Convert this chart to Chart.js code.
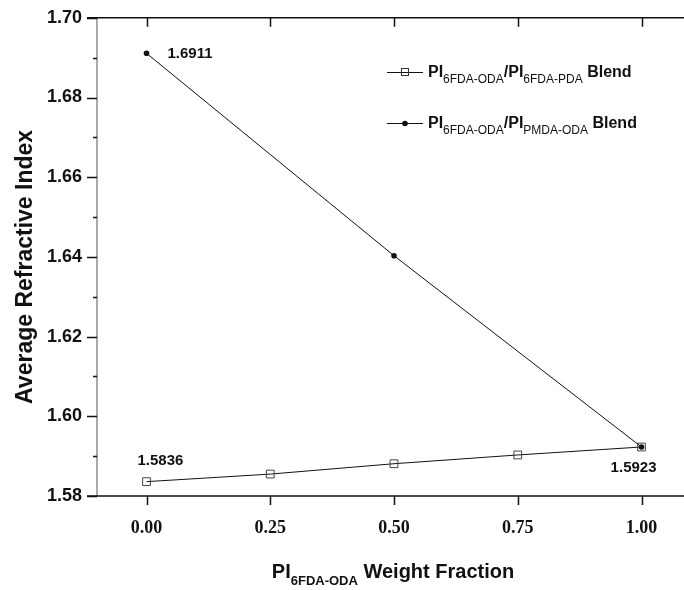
<!DOCTYPE html>
<html>
<head>
<meta charset="utf-8">
<script src="https://cdn.jsdelivr.net/npm/chart.js@4"></script>
<style>
  html, body { margin: 0; padding: 0; background: #fff; overflow: hidden; }
  #wrap { width: 684px; height: 590px; overflow: hidden; position: relative; }
  canvas { display: block; }
</style>
</head>
<body>
<div id="wrap"><canvas id="chart" width="700" height="590"></canvas></div>
<script>
// -------------------------------
// Data
// -------------------------------
const pdaFractions = [0, 0.25, 0.5, 0.75, 1.0];
const pdaBlendIndex = [1.5836, 1.5855, 1.5881, 1.5903, 1.5923];

const pmdaFractions = [0, 0.5, 1.0];
const pmdaBlendIndex = [1.6911, 1.6403, 1.5923];

const xTicks = [0, 0.25, 0.5, 0.75, 1.0];
const yTicks = [1.58, 1.60, 1.62, 1.64, 1.66, 1.68, 1.70];
const yMinorTicks = [1.59, 1.61, 1.63, 1.65, 1.67, 1.69];

const valueLabels = ["1.6911", "1.5836", "1.5923"];

const SANS = "Arial, 'Liberation Sans', sans-serif";
const SERIF = "'Times New Roman', 'Liberation Serif', serif";
const INK = "#111";

// -------------------------------
// Helpers for text with subscripts
// parts: [text, isSub]; style: {big, small, drop}
// -------------------------------
function drawRich(ctx, parts, style, x, y) {
  let cx = x;
  parts.forEach(([text, sub]) => {
    ctx.font = sub ? style.small : style.big;
    ctx.fillText(text, cx, sub ? y + style.drop : y);
    cx += ctx.measureText(text).width;
  });
  return cx - x;
}

function richWidth(ctx, parts, style) {
  let w = 0;
  parts.forEach(([text, sub]) => {
    ctx.font = sub ? style.small : style.big;
    w += ctx.measureText(text).width;
  });
  return w;
}

// -------------------------------
// Axes frame, ticks, titles, legend, value labels
// -------------------------------
const framePlugin = {
  id: "frame",
  afterDraw(chart) {
    const ctx = chart.ctx;
    const xs = chart.scales.x;
    const ys = chart.scales.y;
    const a = chart.chartArea;
    ctx.save();

    // left axis (gray)
    ctx.strokeStyle = "#8c8c8c";
    ctx.lineWidth = 1.5;
    ctx.beginPath();
    ctx.moveTo(a.left, a.top);
    ctx.lineTo(a.left, a.bottom);
    ctx.stroke();

    // top and bottom axis lines (black), start at the outer end of y ticks
    ctx.strokeStyle = INK;
    ctx.lineWidth = 1.5;
    ctx.beginPath();
    ctx.moveTo(a.left - 10, a.top);
    ctx.lineTo(a.right, a.top);
    ctx.moveTo(a.left - 10, a.bottom);
    ctx.lineTo(a.right, a.bottom);
    ctx.stroke();

    // y major ticks (outward) and minor ticks
    ctx.beginPath();
    yTicks.forEach((v) => {
      const py = Math.round(ys.getPixelForValue(v)) + 0.5;
      ctx.moveTo(a.left - 10, py);
      ctx.lineTo(a.left, py);
    });
    yMinorTicks.forEach((v) => {
      const py = Math.round(ys.getPixelForValue(v)) + 0.5;
      ctx.moveTo(a.left - 4, py);
      ctx.lineTo(a.left, py);
    });
    ctx.stroke();

    // x major ticks: bottom outward, top inward
    ctx.beginPath();
    xTicks.forEach((v) => {
      const px = Math.round(xs.getPixelForValue(v)) + 0.5;
      ctx.moveTo(px, a.bottom);
      ctx.lineTo(px, a.bottom + 9);
      ctx.moveTo(px, a.top);
      ctx.lineTo(px, a.top + 9);
    });
    ctx.stroke();

    ctx.fillStyle = INK;

    // y title
    ctx.save();
    ctx.translate(26, (a.top + a.bottom) / 2 + 10);
    ctx.rotate(-Math.PI / 2);
    ctx.font = "bold 23px " + SANS;
    ctx.textAlign = "center";
    ctx.textBaseline = "middle";
    ctx.fillText("Average Refractive Index", 0, 0);
    ctx.restore();

    // x title with subscript
    const xStyle = { big: "bold 20px " + SANS, small: "bold 13px " + SANS, drop: 7 };
    const xParts = [["PI", false], ["6FDA-ODA", true], [" Weight Fraction", false]];
    ctx.textAlign = "left";
    ctx.textBaseline = "alphabetic";
    const xw = richWidth(ctx, xParts, xStyle);
    drawRich(ctx, xParts, xStyle, 393 - xw / 2, 578);

    // legend
    const lStyle = { big: "bold 16px " + SANS, small: "12px " + SANS, drop: 6 };
    const legendRows = [
      { y: 72, sub2: "6FDA-PDA", marker: "rect" },
      { y: 123, sub2: "PMDA-ODA", marker: "dot" },
    ];
    legendRows.forEach((row) => {
      ctx.strokeStyle = INK;
      ctx.lineWidth = 1;
      ctx.beginPath();
      ctx.moveTo(387, row.y + 0.5);
      ctx.lineTo(423, row.y + 0.5);
      ctx.stroke();
      if (row.marker === "rect") {
        ctx.strokeStyle = "#333";
        ctx.strokeRect(401.5, row.y - 3.5, 7, 7);
      } else {
        ctx.beginPath();
        ctx.arc(405, row.y + 0.5, 2.8, 0, Math.PI * 2);
        ctx.fill();
      }
      drawRich(ctx, [
        ["PI", false],
        ["6FDA-ODA", true],
        ["/PI", false],
        [row.sub2, true],
        [" Blend", false],
      ], lStyle, 428, row.y + 5);
    });

    // value labels next to the end points
    ctx.font = "bold 15px " + SANS;
    ctx.textBaseline = "middle";
    ctx.textAlign = "left";
    ctx.fillText(valueLabels[0], xs.getPixelForValue(pmdaFractions[0]) + 21, ys.getPixelForValue(pmdaBlendIndex[0]) + 1);
    ctx.fillText(valueLabels[1], xs.getPixelForValue(pdaFractions[0]) - 9, ys.getPixelForValue(pdaBlendIndex[0]) - 21);
    ctx.textAlign = "right";
    ctx.fillText(valueLabels[2], xs.getPixelForValue(pdaFractions[4]) + 15, ys.getPixelForValue(pdaBlendIndex[4]) + 21);

    ctx.restore();
  },
};

new Chart(document.getElementById("chart"), {
  type: "scatter",
  data: {
    datasets: [
      {
        label: "PMDA-ODA blend",
        data: pmdaFractions.map((x, i) => ({ x, y: pmdaBlendIndex[i] })),
        showLine: true,
        borderColor: INK,
        borderWidth: 1,
        pointStyle: "circle",
        pointRadius: 2.8,
        pointBackgroundColor: INK,
        pointBorderColor: INK,
        pointBorderWidth: 0,
      },
      {
        label: "6FDA-PDA blend",
        data: pdaFractions.map((x, i) => ({ x, y: pdaBlendIndex[i] })),
        showLine: true,
        borderColor: INK,
        borderWidth: 1,
        pointStyle: "rect",
        pointRadius: 5.5,
        pointBackgroundColor: "rgba(0,0,0,0)",
        pointBorderColor: "#444",
        pointBorderWidth: 1,
      },
    ],
  },
  options: {
    responsive: false,
    animation: false,
    devicePixelRatio: 1,
    layout: { padding: { top: 7, right: 9, left: 0, bottom: 0 } },
    plugins: {
      legend: { display: false },
      tooltip: { enabled: false },
    },
    scales: {
      x: {
        type: "linear",
        min: -0.1,
        max: 1.1,
        grid: { display: false },
        border: { display: false },
        afterBuildTicks: (s) => { s.ticks = xTicks.map((v) => ({ value: v })); },
        afterFit: (s) => { s.height = 94; },
        ticks: {
          autoSkip: false,
          maxRotation: 0,
          padding: 14,
          color: INK,
          font: { family: SERIF, size: 18, weight: "bold" },
          callback: (v) => Number(v).toFixed(2),
        },
      },
      y: {
        type: "linear",
        min: 1.58,
        max: 1.70,
        grid: { display: false },
        border: { display: false },
        afterBuildTicks: (s) => { s.ticks = yTicks.map((v) => ({ value: v })); },
        afterFit: (s) => { s.width = 97; },
        ticks: {
          autoSkip: false,
          padding: 7,
          color: INK,
          font: { family: SANS, size: 18, weight: "bold" },
          callback: (v) => Number(v).toFixed(2),
        },
      },
    },
  },
  plugins: [framePlugin],
});
</script>
</body>
</html>
